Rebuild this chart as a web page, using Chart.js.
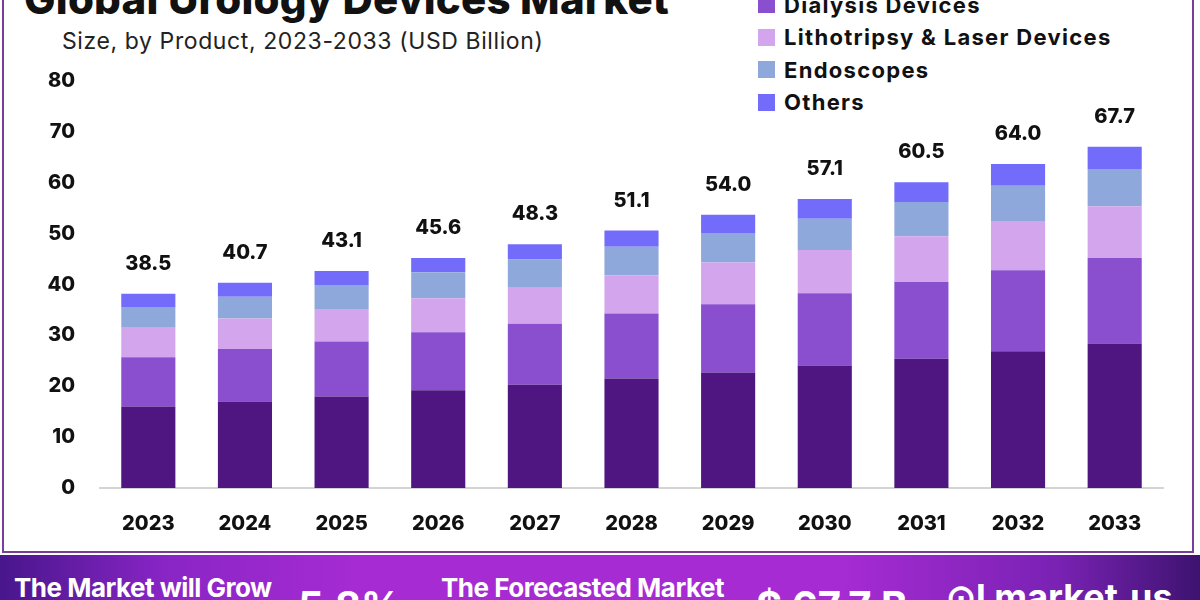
<!DOCTYPE html>
<html lang="en">
    <head>
        <meta charset="UTF-8" />
        <title>Global Urology Devices Market</title>
        <script src="https://cdn.jsdelivr.net/npm/chart.js"></script>
        <style>
            body {
                margin: 0;
                width: 1200px;
                height: 600px;
                overflow: hidden;
                position: relative;
                background: #fff;
                font-family: Inter, "Noto Sans", sans-serif;
            }
            .frame {
                position: absolute;
                left: 2px;
                top: -10px;
                width: 1188px;
                height: 561px;
                border: 2px solid #7b3d9a;
                border-top: none;
            }
            .title {
                position: absolute;
                left: 24px;
                top: -22px;
                font-size: 42px;
                line-height: 42px;
                font-weight: 800;
                letter-spacing: 0.2px;
                color: #111;
                white-space: nowrap;
            }
            .subtitle {
                position: absolute;
                left: 62px;
                top: 27px;
                font-size: 23px;
                line-height: 28px;
                letter-spacing: 0.6px;
                color: #222;
                white-space: nowrap;
            }
            #legend {
                position: absolute;
                left: 758px;
                top: -44px;
            }
            .item {
                height: 32.5px;
                display: flex;
                align-items: center;
                font-size: 22px;
                font-weight: 700;
                letter-spacing: 1.3px;
                color: #111;
                white-space: nowrap;
            }
            .item span.box {
                width: 17px;
                height: 17px;
                margin-right: 9px;
                display: inline-block;
            }
            #wrap {
                position: absolute;
                left: 0;
                top: 0;
                width: 1200px;
                height: 555px;
            }
            .banner {
                position: absolute;
                left: 0;
                top: 555px;
                width: 1200px;
                height: 45px;
                background: linear-gradient(
                    90deg,
                    #48168c 0%,
                    #8a25c6 14%,
                    #a62bd3 30%,
                    #a62bd3 70%,
                    #7a22b4 88%,
                    #3d1370 100%
                );
                color: #fff;
                font-weight: 700;
                white-space: nowrap;
            }
            .banner div {
                position: absolute;
            }
        </style>
    </head>
    <body>
        <div class="frame"></div>
        <div class="title">Global Urology Devices Market</div>
        <div class="subtitle">Size, by Product, 2023-2033 (USD Billion)</div>
        <div id="legend"></div>
        <div id="wrap"><canvas id="chart"></canvas></div>
        <div class="banner">
            <div style="left: 14px; top: 17px; font-size: 26px; letter-spacing: -0.5px">The Market will Grow</div>
            <div style="left: 298px; top: 26px; font-size: 40px">5.8%</div>
            <div style="left: 441px; top: 17px; font-size: 26px; letter-spacing: -0.5px">The Forecasted Market</div>
            <div style="left: 756px; top: 26px; font-size: 40px">$ 67.7 B</div>
            <div style="left: 946px; top: 20px; font-size: 36px">&#x2299;l market.us</div>
        </div>

        <script>
            const years = ["2023", "2024", "2025", "2026", "2027", "2028", "2029", "2030", "2031", "2032", "2033"];
            const totals = [38.5, 40.7, 43.1, 45.6, 48.3, 51.1, 54.0, 57.1, 60.5, 64.0, 67.7];

            const segmentNames = [
                "Consumables & Accessories",
                "Dialysis Devices",
                "Lithotripsy & Laser Devices",
                "Endoscopes",
                "Others",
            ];
            const segmentColors = ["#4f1681", "#8a4fcf", "#d3a5ec", "#8ea8dc", "#736cfa"];

            // valeurs, du bas vers le haut de chaque barre
            const consumables = [16.0, 17.0, 18.0, 19.2, 20.3, 21.5, 22.7, 24.1, 25.4, 26.9, 28.4];
            const dialysis = [9.7, 10.3, 10.8, 11.4, 12.0, 12.8, 13.4, 14.2, 15.1, 15.9, 16.8];
            const lithotripsy = [5.8, 6.0, 6.4, 6.7, 7.2, 7.5, 8.2, 8.5, 9.0, 9.7, 10.2];
            const endoscopes = [4.1, 4.3, 4.7, 5.1, 5.4, 5.6, 5.8, 6.1, 6.7, 6.9, 7.3];
            const others = [2.6, 2.75, 2.75, 2.8, 3.0, 3.2, 3.6, 3.9, 3.9, 4.3, 4.4];

            const yTicks = [0, 10, 20, 30, 40, 50, 60, 70, 80];

            const seriesValues = [consumables, dialysis, lithotripsy, endoscopes, others];

            // légende en HTML
            const legend = document.getElementById("legend");
            segmentNames.forEach((name, i) => {
                const row = document.createElement("div");
                row.className = "item";
                row.innerHTML = `<span class="box" style="background:${segmentColors[i]}"></span>${name}`;
                legend.appendChild(row);
            });

            const totalLabels = {
                id: "totalLabels",
                afterDatasetsDraw(chart) {
                    const ctx = chart.ctx;
                    const y = chart.scales.y;
                    const meta = chart.getDatasetMeta(0);
                    ctx.save();
                    ctx.font = "800 20px Inter, sans-serif";
                    ctx.fillStyle = "#111";
                    ctx.textAlign = "center";
                    ctx.textBaseline = "middle";
                    years.forEach((yr, i) => {
                        let sum = 0;
                        seriesValues.forEach((s) => (sum += s[i]));
                        const x = meta.data[i].x;
                        ctx.fillText(totals[i].toFixed(1), x, y.getPixelForValue(sum) - 30);
                    });
                    ctx.restore();
                },
            };

            new Chart(document.getElementById("chart"), {
                type: "bar",
                data: {
                    labels: years,
                    datasets: seriesValues.map((vals, i) => ({
                        label: segmentNames[i],
                        data: vals,
                        backgroundColor: segmentColors[i],
                        barPercentage: 0.56,
                        categoryPercentage: 1.0,
                    })),
                },
                options: {
                    responsive: true,
                    maintainAspectRatio: false,
                    animation: false,
                    layout: {
                        padding: { top: 81, right: 37, left: 0, bottom: 0 },
                    },
                    plugins: {
                        legend: { display: false },
                        tooltip: { enabled: false },
                    },
                    scales: {
                        x: {
                            stacked: true,
                            grid: { display: false, drawTicks: false },
                            border: { display: true, color: "#d4d4d4", width: 2 },
                            ticks: {
                                padding: 24,
                                color: "#111",
                                font: { family: "Inter", size: 20, weight: "800" },
                            },
                            afterFit(scale) {
                                scale.height = 67;
                            },
                        },
                        y: {
                            stacked: true,
                            min: 0,
                            max: 80,
                            grid: { display: false, drawTicks: false },
                            border: { display: false },
                            afterBuildTicks(scale) {
                                scale.ticks = yTicks.map((v) => ({ value: v }));
                            },
                            ticks: {
                                padding: 25,
                                color: "#111",
                                font: { family: "Inter", size: 20, weight: "800" },
                            },
                            afterFit(scale) {
                                scale.width = 100;
                            },
                        },
                    },
                },
                plugins: [totalLabels],
            });
        </script>
    </body>
</html>
